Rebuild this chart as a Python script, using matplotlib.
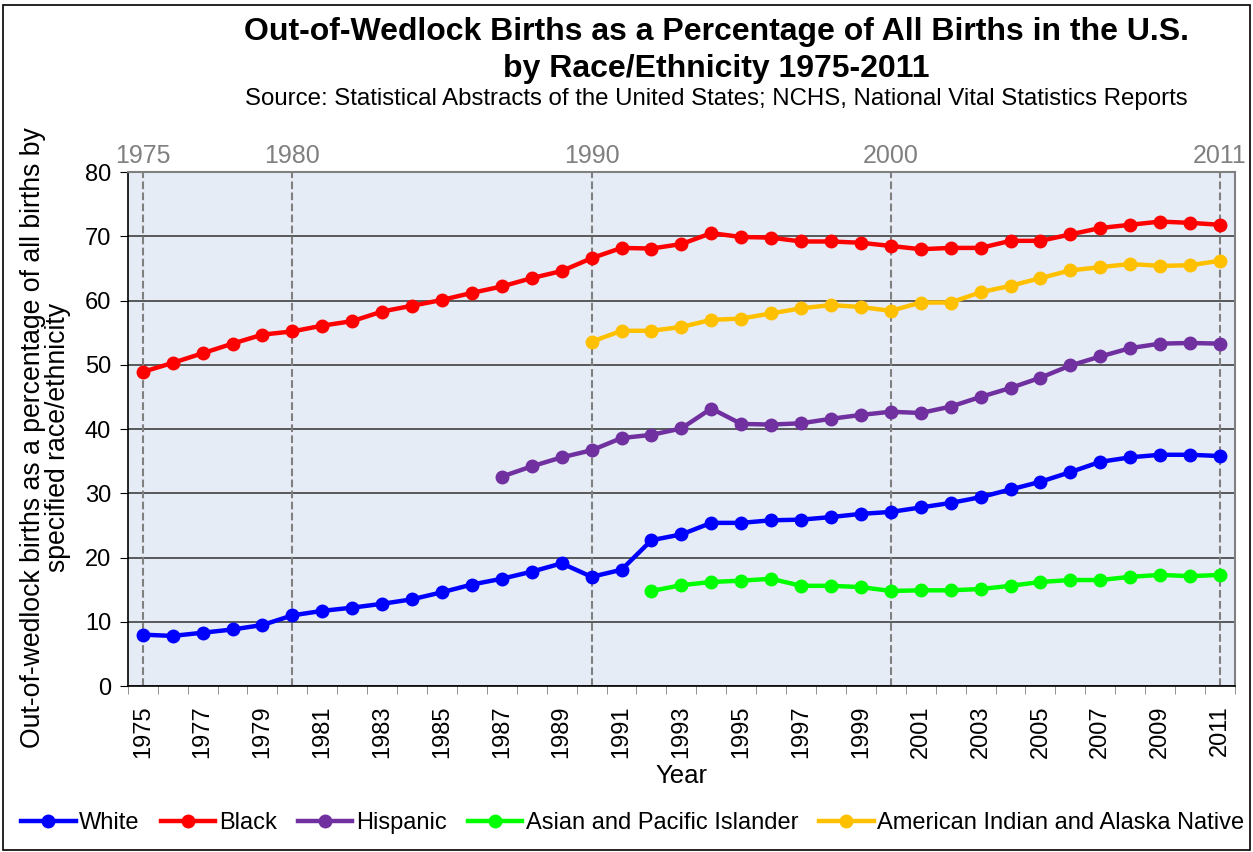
import matplotlib.pyplot as plt
import numpy as np

plt.rcParams['font.family'] = ['Liberation Sans', 'DejaVu Sans']

years = list(range(1975, 2012))

white = [8.0, 7.8, 8.3, 8.8, 9.5, 11.0, 11.7, 12.2, 12.8, 13.5, 14.6, 15.8, 16.7, 17.8,
         19.1, 17.0, 18.1, 22.7, 23.6, 25.4, 25.4, 25.8, 25.9, 26.3, 26.8, 27.1, 27.8,
         28.5, 29.4, 30.6, 31.8, 33.3, 34.9, 35.6, 36.0, 36.0, 35.8]
black = [48.9, 50.3, 51.8, 53.3, 54.7, 55.2, 56.1, 56.8, 58.3, 59.2, 60.1, 61.2, 62.2, 63.5,
         64.6, 66.6, 68.2, 68.1, 68.8, 70.5, 69.9, 69.8, 69.2, 69.2, 69.0, 68.5, 68.0,
         68.2, 68.2, 69.3, 69.3, 70.3, 71.3, 71.8, 72.3, 72.1, 71.8]

hisp_years = list(range(1987, 2012))
hispanic = [32.6, 34.2, 35.6, 36.7, 38.6, 39.1, 40.1, 43.2, 40.8, 40.7, 40.9, 41.6, 42.2,
            42.7, 42.5, 43.5, 45.0, 46.4, 48.0, 49.9, 51.3, 52.6, 53.3, 53.4, 53.3]

api_years = list(range(1992, 2012))
asian = [14.8, 15.7, 16.2, 16.4, 16.7, 15.6, 15.6, 15.4, 14.8, 14.9, 14.9, 15.1, 15.6,
         16.2, 16.5, 16.5, 17.0, 17.3, 17.1, 17.3]

aian_years = list(range(1990, 2012))
aian = [53.6, 55.3, 55.3, 55.9, 57.0, 57.2, 58.0, 58.8, 59.3, 59.0, 58.4, 59.7, 59.7,
        61.3, 62.3, 63.5, 64.7, 65.2, 65.7, 65.4, 65.5, 66.2]

marked_years = [1975, 1980, 1990, 2000, 2011]

fig = plt.figure(figsize=(12.53, 8.52), dpi=100)
ax = fig.add_axes([0.102, 0.1948, 0.8836, 0.6032])
ax.set_facecolor('#E6ECF6')

series = [
    (years, white, '#0000FF', 'White'),
    (years, black, '#FF0000', 'Black'),
    (hisp_years, hispanic, '#7030A0', 'Hispanic'),
    (api_years, asian, '#00FF00', 'Asian and Pacific Islander'),
    (aian_years, aian, '#FFC000', 'American Indian and Alaska Native'),
]
for xs, ys, c, lab in series:
    ax.plot(xs, ys, color=c, lw=3.2, marker='o', ms=9, label=lab, zorder=3)

# dashed reference lines at the labelled years
for y in marked_years:
    ax.axvline(y, color='#808080', ls='--', lw=1.5, zorder=2)

ax.set_xlim(1974.5, 2011.5)
ax.set_ylim(0, 80)
ax.set_yticks(range(0, 81, 10))
ax.yaxis.grid(True, color='#404040', lw=1.2, zorder=1)
ax.set_axisbelow(True)

ax.set_xticks(years[::2])
ax.set_xticklabels([str(y) for y in years[::2]], rotation=90, fontsize=17)
ax.set_xticks(np.arange(1974.5, 2012, 1), minor=True)
ax.tick_params(axis='x', which='major', length=0, pad=14)
ax.tick_params(axis='x', which='minor', length=6, color='#808080', direction='out')
ax.tick_params(axis='y', labelsize=17, length=6, direction='out', pad=6)

for s in ['top', 'right']:
    ax.spines[s].set_color('#808080')
    ax.spines[s].set_linewidth(1.5)
for s in ['left', 'bottom']:
    ax.spines[s].set_color('black')
    ax.spines[s].set_linewidth(1.2)

ax.set_xlabel('Year', fontsize=18.5, labelpad=4)
fig.text(0.036, 0.486,
         'Out-of-wedlock births as a percentage of all births by\nspecified race/ethnicity',
         rotation=90, ha='center', va='center', multialignment='center',
         fontsize=19.2, linespacing=0.95)

top = ax.twiny()
top.set_xlim(ax.get_xlim())
top.set_xticks(marked_years)
top.set_xticklabels([str(y) for y in marked_years], fontsize=18, color='#808080')
top.tick_params(axis='x', length=0, pad=3)
for s in top.spines.values():
    s.set_visible(False)

fig.text(0.572, 0.962, 'Out-of-Wedlock Births as a Percentage of All Births in the U.S.',
         ha='center', va='center', fontsize=23, fontweight='bold')
fig.text(0.572, 0.919, 'by Race/Ethnicity 1975-2011',
         ha='center', va='center', fontsize=23, fontweight='bold')
fig.text(0.572, 0.884, 'Source: Statistical Abstracts of the United States; NCHS, National Vital Statistics Reports',
         ha='center', va='center', fontsize=17.3)

fig.legend(loc='center', bbox_to_anchor=(0.505, 0.034), ncol=5, frameon=False,
           fontsize=17, handlelength=2.3, handletextpad=0.15, columnspacing=0.9)

fig.patches.append(plt.Rectangle((0.002, 0.002), 0.996, 0.992, transform=fig.transFigure,
                                 fill=False, edgecolor='black', lw=1.2))

fig.savefig('out.png', dpi=100)
